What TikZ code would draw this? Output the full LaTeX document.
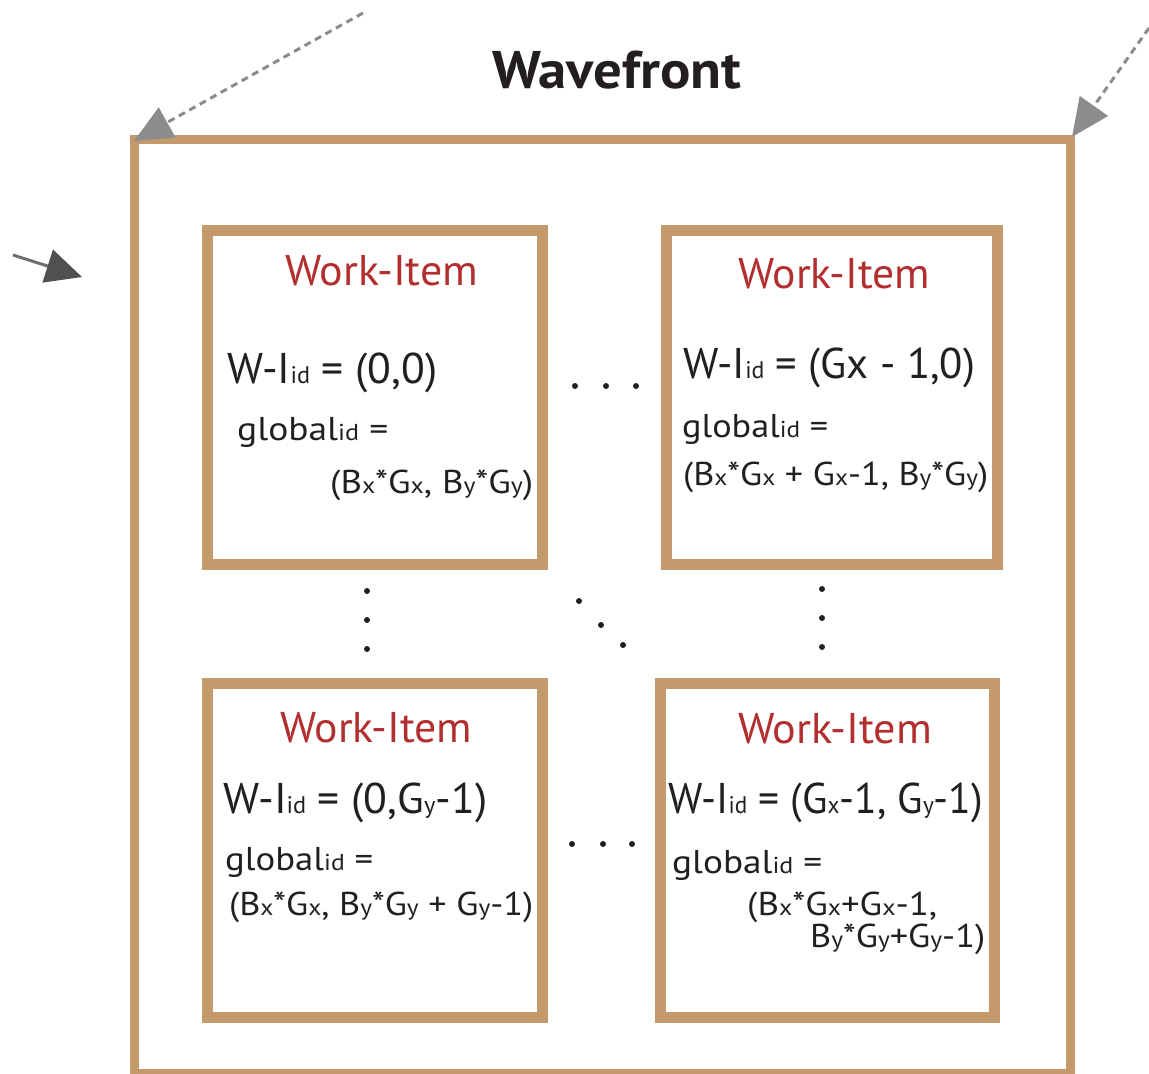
\documentclass[tikz,border=0pt]{standalone}
\usepackage{fontspec}
\setmainfont{PT Sans}
\usetikzlibrary{arrows.meta}

\definecolor{wibrown}{HTML}{C49A6C}
\definecolor{wired}{HTML}{B32E2E}
\definecolor{witext}{HTML}{231F20}
\definecolor{wigray}{HTML}{8C8C8C}
\definecolor{widark}{HTML}{505050}
\definecolor{wiline}{HTML}{6E6E6E}

% subscripts, set on the baseline in a smaller size
\newcommand\bsub[1]{{\fontsize{24}{26}\selectfont #1}}
\newcommand\ssub[1]{{\fontsize{23}{25}\selectfont #1}}
% stretch a line of text to a given width, keeping its height
\newcommand\fitto[2]{\resizebox{#1pt}{\height}{#2}}

\begin{document}
\begin{tikzpicture}[x=1pt,y=-1pt,
  frame/.style={draw=wibrown, line width=9pt, minimum width=936pt, minimum height=934pt, inner sep=0pt},
  itembox/.style={draw=wibrown, line width=11pt, inner sep=0pt},
  heading/.style={text=wired, font=\fontsize{43}{50}\selectfont, anchor=base west, inner sep=0pt},
  idline/.style={text=witext, font=\fontsize{43}{50}\selectfont, anchor=base west, inner sep=0pt},
  gline/.style={text=witext, font=\fontsize{33}{38}\selectfont, anchor=base west, inner sep=0pt},
  wtitle/.style={text=witext, font=\fontsize{53}{60}\selectfont\bfseries, anchor=base west, inner sep=0pt},
  dashedarrow/.style={draw=wigray, line width=3pt, dash pattern=on 7pt off 5pt,
    -{Triangle[length=38pt, width=34pt, fill=wigray]}},
  solidarrow/.style={draw=wiline, line width=3pt,
    -{Triangle[length=36pt, width=34pt, color=widark, fill=widark]}},
  dotmark/.style={fill=witext}
]
\useasboundingbox (0,0) rectangle (1149,1074);

% wavefront frame and its title
\node[frame] (wf) at (602.5,606.5) {};
\node[wtitle] (title) at (492,88) {\fitto{249}{Wavefront}};

% the four work-items
\node[itembox, minimum width=335pt, minimum height=334pt] (tl) at (375,397.5) {};
\node[itembox, minimum width=331pt, minimum height=334pt] (tr) at (832,397.5) {};
\node[itembox, minimum width=335pt, minimum height=334pt] (bl) at (375,850.5) {};
\node[itembox, minimum width=334pt, minimum height=334pt] (br) at (827.5,850.5) {};

% top left item
\node[heading] (tlh) at (285,285) {\fitto{193}{Work-Item}};
\node[idline] (tlid) at (227,383) {\fitto{210}{W-I\bsub{id} = (0,0)}};
\node[gline] (tlg) at (237,440) {\fitto{151}{global\ssub{id} =}};
\node[gline] (tlv) at (330,493) {\fitto{203}{(B\ssub{x}*G\ssub{x}, B\ssub{y}*G\ssub{y})}};

% top right item
\node[heading] (trh) at (738,288) {\fitto{192}{Work-Item}};
\node[idline] (trid) at (683,378) {\fitto{292}{W-I\bsub{id} = (Gx - 1,0)}};
\node[gline] (trg) at (682,437) {\fitto{146}{global\ssub{id} =}};
\node[gline] (trv) at (683,485) {\fitto{305}{(B\ssub{x}*G\ssub{x} + G\ssub{x}-1, B\ssub{y}*G\ssub{y})}};

% bottom left item
\node[heading] (blh) at (280,742) {\fitto{192}{Work-Item}};
\node[idline] (blid) at (223,813) {\fitto{264}{W-I\bsub{id} = (0,G\bsub{y}-1)}};
\node[gline] (blg) at (225,870) {\fitto{148}{global\ssub{id} =}};
\node[gline] (blv) at (229,915) {\fitto{304}{(B\ssub{x}*G\ssub{x}, B\ssub{y}*G\ssub{y} + G\ssub{y}-1)}};

% bottom right item
\node[heading] (brh) at (738,743) {\fitto{194}{Work-Item}};
\node[idline] (brid) at (668,813) {\fitto{315}{W-I\bsub{id} = (G\bsub{x}-1, G\bsub{y}-1)}};
\node[gline] (brg) at (672,873) {\fitto{150}{global\ssub{id} =}};
\node[gline] (brv) at (747,915) {\fitto{190}{(B\ssub{x}*G\ssub{x}+G\ssub{x}-1,}};
\node[gline] (brw) at (810,947) {\fitto{175}{B\ssub{y}*G\ssub{y}+G\ssub{y}-1)}};

% ellipsis dots between the items
\foreach \x in {575,606,636} \fill[dotmark] (\x,386) circle (3pt);
\foreach \x in {572,603,632} \fill[dotmark] (\x,844) circle (3pt);
\foreach \y in {591,620,649} \fill[dotmark] (367,\y) circle (3pt);
\foreach \y in {589,618,647} \fill[dotmark] (822,\y) circle (3pt);
\fill[dotmark] (579,601) circle (3pt);
\fill[dotmark] (601,625) circle (3pt);
\fill[dotmark] (623,645) circle (3pt);

% incoming arrows
\coordinate (srcA) at (363,13);
\coordinate (srcB) at (1149,28);
\coordinate (srcC) at (13,255);
\coordinate (tipC) at (82,277);
\draw[dashedarrow] (srcA) -- ([shift={(4pt,-6pt)}]wf.north west);
\draw[dashedarrow] (srcB) -- ([shift={(-3pt,-2pt)}]wf.north east);
\draw[solidarrow] (srcC) -- (tipC);
\end{tikzpicture}
\end{document}
